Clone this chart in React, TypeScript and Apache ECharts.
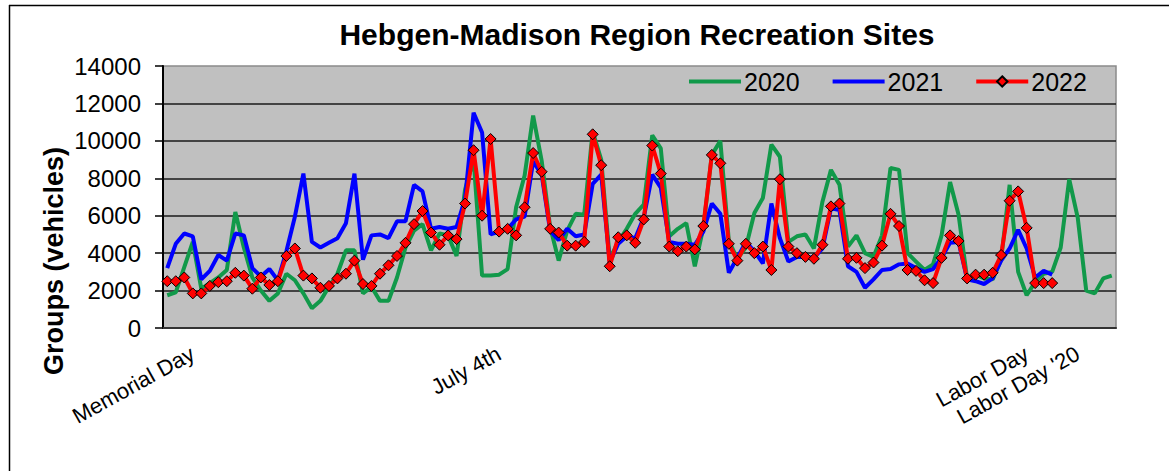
import React, { useEffect, useRef } from 'react';
import * as echarts from 'echarts';

const seriesNames = ['2020', '2021', '2022'];

const values2020 = [
  1750, 1900, 3250, 4600, 2100, 2400, 2700, 3100, 6200, 4300,
  2700, 2000, 1450, 1850, 2900, 2550, 1850, 1050, 1450, 2200,
  2900, 4150, 4150, 1850, 2200, 1450, 1450, 2700, 4300, 5200,
  5550, 4150, 5050, 4950, 3850, 7400, 9000, 2800, 2800, 2850,
  3150, 6450, 8150, 11350, 8950, 5400, 3600, 5200, 6100, 6050,
  10500, 9000, 3700, 4600, 5300, 6100, 6600, 10300, 9600, 4900,
  5300, 5600, 3300, 5350, 9250, 10000, 4650, 3700, 4300, 6150,
  6950, 9800, 9150, 4600, 4900, 5000, 4250, 6750, 8450, 7650,
  4350, 4950, 4000, 3800, 4950, 8550, 8450, 4000, 3550, 3100,
  3400, 4950, 7800, 6050, 2650, 2850, 2650, 2600, 3650, 7650,
  3000, 1750, 2450, 2900, 3000, 4300, 7950, 5900, 2000, 1850, 2650, 2800,
];

const values2021 = [
  3200, 4500, 5050, 4900, 2600, 3050, 3900, 3600, 5050, 4950,
  3200, 2750, 3150, 2550, 4100, 5950, 8250, 4600, 4300, 4550,
  4800, 5600, 8250, 3650, 4950, 5000, 4800, 5700, 5700, 7650,
  7300, 5300, 5400, 5300, 5400, 6900, 11500, 10450, 5000, 5150,
  5300, 5800, 5950, 8900, 8200, 5200, 4700, 5300, 4900, 5000,
  7700, 8200, 3500, 4500, 4900, 4800, 5900, 8200, 7500, 4600,
  4500, 4500, 4450, 5150, 6650, 6100, 2950, 3750, 4600, 4100,
  3450, 6650, 4800, 3550, 3800, 3800, 3750, 4250, 6400, 6300,
  3300, 3000, 2150, 2600, 3100, 3150, 3400, 3450, 3200, 3000,
  3150, 3750, 4550, 4600, 2600, 2500, 2350, 2650, 3600, 4250,
  5250, 4250, 2700, 3050, 2850,
];

const values2022 = [
  2500, 2500, 2700, 1850, 1850, 2250, 2450, 2500, 2950, 2800,
  2100, 2700, 2300, 2500, 3850, 4250, 2800, 2650, 2150, 2250,
  2650, 2900, 3600, 2350, 2250, 2900, 3350, 3850, 4550, 5550,
  6250, 5100, 4450, 4950, 4750, 6650, 9500, 6000, 10100, 5150,
  5300, 4950, 6450, 9350, 8350, 5300, 5100, 4400, 4400, 4600,
  10350, 8700, 3300, 4850, 4950, 4550, 5800, 9750, 8250, 4350,
  4100, 4350, 4200, 5450, 9250, 8800, 4500, 3600, 4500, 4000,
  4350, 3100, 7950, 4350, 4000, 3800, 3700, 4450, 6500, 6650,
  3700, 3750, 3200, 3500, 4400, 6100, 5450, 3100, 3050, 2550,
  2400, 3750, 4950, 4650, 2650, 2850, 2850, 2950, 3900, 6800,
  7300, 5350, 2400, 2400, 2400,
];

const dayCount = 112;
const holidayIndex = [3, 39, 101, 107];
const holidayLabels = ['Memorial Day', 'July 4th', 'Labor Day', "Labor Day '20"];

const yMin = 0;
const yMax = 14000;
const yStep = 2000;

const titleText = 'Hebgen-Madison Region Recreation Sites';
const yAxisTitle = 'Groups (vehicles)';

const FONT = '"Liberation Sans", Arial, Helvetica, sans-serif';
const GREEN = '#11994A';
const BLUE = '#0000FF';
const RED = '#FF0000';

export default function App() {
  const ref = useRef<HTMLDivElement>(null);

  useEffect(() => {
    document.body.style.margin = '0';
    const chart = echarts.init(ref.current!, null, { renderer: 'svg' });
    const categories = Array.from({ length: dayCount }, (_, i) => String(i + 1));
    const labelFor = (idx: number) => {
      const k = holidayIndex.indexOf(idx);
      return k >= 0 ? holidayLabels[k] : '';
    };

    chart.setOption({
      animation: false,
      backgroundColor: '#ffffff',
      textStyle: { fontFamily: FONT },
      grid: {
        left: 163,
        right: 53,
        top: 66,
        bottom: 143,
        show: true,
        backgroundColor: '#C0C0C0',
        borderColor: '#8a8a8a',
        borderWidth: 1.5,
      },
      legend: {
        left: 687,
        top: 69,
        padding: 0,
        itemWidth: 52,
        itemHeight: 13,
        itemGap: 31,
        lineStyle: { width: 4 },
        textStyle: { fontSize: 25, color: '#000', fontFamily: FONT, padding: [0, 0, 0, -2] },
        data: [
          { name: seriesNames[0], itemStyle: { opacity: 0 }, lineStyle: { width: 4, color: GREEN } },
          { name: seriesNames[1], itemStyle: { opacity: 0 }, lineStyle: { width: 4, color: BLUE } },
          { name: seriesNames[2], lineStyle: { width: 4, color: RED } },
        ],
      },
      xAxis: {
        type: 'category',
        data: categories,
        boundaryGap: true,
        axisLine: { show: true, lineStyle: { color: '#333', width: 2 } },
        axisTick: { show: false },
        splitLine: { show: false },
        axisLabel: {
          interval: 0,
          rotate: 29,
          margin: 24,
          fontSize: 22,
          color: '#000',
          fontFamily: FONT,
          formatter: (_v: string, idx: number) => labelFor(idx),
        },
      },
      yAxis: {
        type: 'value',
        min: yMin,
        max: yMax,
        interval: yStep,
        axisLine: { show: true, lineStyle: { color: '#000', width: 2 } },
        axisTick: { show: true, inside: false, length: 8, lineStyle: { color: '#000', width: 1.5 } },
        axisLabel: {
          fontSize: 24,
          color: '#000',
          margin: 22,
          fontFamily: FONT,
          formatter: (v: number) => String(v),
        },
        splitLine: {
          show: true,
          showMinLine: false,
          showMaxLine: false,
          lineStyle: { color: '#1a1a1a', width: 1.5 },
        },
      },
      series: [
        {
          name: seriesNames[0],
          type: 'line',
          data: values2020,
          symbol: 'none',
          lineStyle: { color: GREEN, width: 4 },
          itemStyle: { color: GREEN },
          z: 2,
        },
        {
          name: seriesNames[1],
          type: 'line',
          data: values2021,
          symbol: 'none',
          lineStyle: { color: BLUE, width: 4 },
          itemStyle: { color: BLUE },
          z: 3,
        },
        {
          name: seriesNames[2],
          type: 'line',
          data: values2022,
          symbol: 'diamond',
          symbolSize: 11,
          showAllSymbol: true,
          lineStyle: { color: RED, width: 4 },
          itemStyle: { color: RED, borderColor: '#000', borderWidth: 1 },
          z: 4,
        },
      ],
      graphic: [
        {
          type: 'line',
          shape: { x1: 9.5, y1: 5, x2: 9.5, y2: 471 },
          style: { stroke: '#000', lineWidth: 1.5 },
        },
        {
          type: 'line',
          shape: { x1: 9, y1: 5.5, x2: 1169, y2: 5.5 },
          style: { stroke: '#000', lineWidth: 1.5 },
        },
        {
          type: 'text',
          x: 637,
          y: 34,
          style: {
            text: titleText,
            fontSize: 30,
            fontWeight: 'bold',
            fontFamily: FONT,
            fill: '#000',
            align: 'center',
            verticalAlign: 'middle',
          },
        },
        {
          type: 'text',
          x: 54,
          y: 261,
          rotation: Math.PI / 2,
          style: {
            text: yAxisTitle,
            fontSize: 27,
            fontWeight: 'bold',
            fontFamily: FONT,
            fill: '#000',
            align: 'center',
            verticalAlign: 'middle',
          },
        },
      ],
    });

    return () => chart.dispose();
  }, []);

  return (
    <div
      ref={ref}
      style={{ position: 'absolute', left: 0, top: 0, width: 1169, height: 471 }}
    />
  );
}
